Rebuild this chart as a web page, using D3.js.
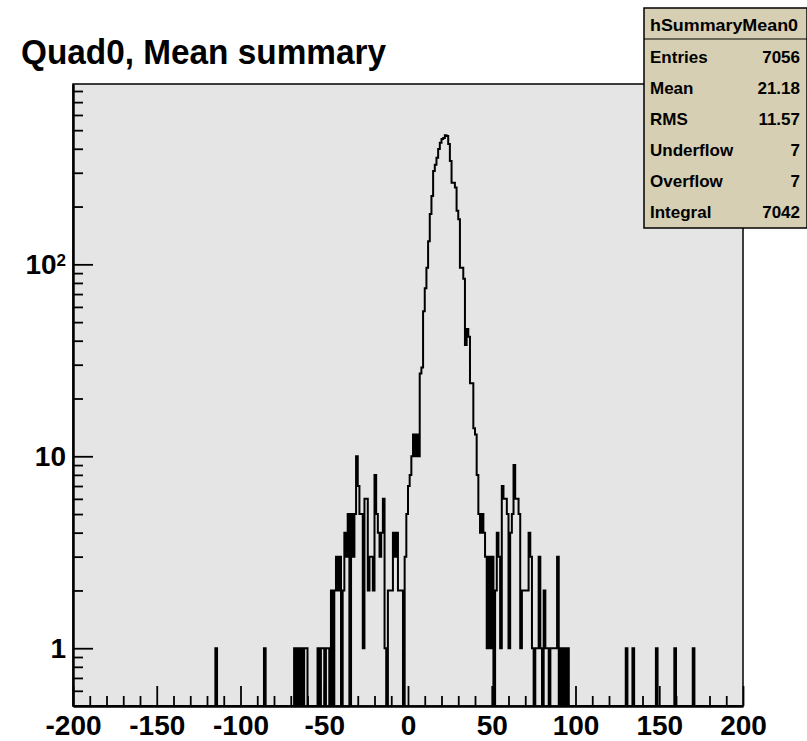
<!DOCTYPE html>
<html>
<head>
<meta charset="utf-8">
<script src="https://cdn.jsdelivr.net/npm/d3@7"></script>
<style>
  body { margin: 0; background: #fff; }
  svg { display: block; }
  text { font-family: "Liberation Sans", Arial, Helvetica, sans-serif; }
</style>
</head>
<body>
<div id="chart"></div>
<script>
// histogram: 400 bins of width 1 from -200 to 200
const xMin = -200, xMax = 200;

// contiguous bins starting at bodyStart (lower bin edge), one count per bin
const bodyStart = -70;
const bodyCounts = [
  0, 0, 1, 0, 1, 0, 1, 0, 1, 1,        // -70 .. -61
  0, 0, 0, 0, 0, 0, 1, 0, 1, 1,        // -60 .. -51
  0, 1, 1, 0, 2, 0, 2, 3, 2, 3,        // -50 .. -41
  0, 2, 4, 3, 5, 0, 5, 3, 5, 10,       // -40 .. -31
  7, 5, 5, 1, 6, 6, 2, 3, 3, 2,        // -30 .. -21
  8, 5, 4, 3, 4, 6, 1, 0, 2, 2,        // -20 .. -11
  2, 4, 3, 4, 2, 2, 2, 0, 3, 5,        // -10 .. -1
  7, 8, 10, 13, 10, 13, 10, 27, 29, 57,        // 0 .. 9
  75, 96, 132, 183, 227, 306, 330, 359, 399, 430, // 10 .. 19
  450, 455, 470, 466, 424, 345, 266, 266, 251, 190, // 20 .. 29
  172, 96, 96, 84, 38, 46, 42, 24, 24, 14,     // 30 .. 39
  13, 8, 5, 4, 5, 4, 3, 1, 3, 1,       // 40 .. 49
  3, 0, 2, 4, 3, 1, 7, 6, 6, 5,        // 50 .. 59
  1, 4, 5, 9, 6, 6, 5, 1, 2, 2,        // 60 .. 69
  2, 2, 4, 3, 1, 0, 1, 1, 3, 1,        // 70 .. 79
  0, 2, 1, 1, 0, 1, 1, 1, 1, 3,        // 80 .. 89
  0, 1, 0, 1, 0, 1, 0, 0, 0, 0         // 90 .. 99
];

// isolated single entries far from the peak
const spikeBins = [-115, -86, 130, 134, 148, 159, 170];
const spikeCounts = [1, 1, 1, 1, 1, 1, 1];

const xMajorTicks = [-200, -150, -100, -50, 0, 50, 100, 150, 200];
const yMajorTicks = [1, 10, 100];
const yMinorTicks = [0.6, 0.7, 0.8, 0.9, 2, 3, 4, 5, 6, 7, 8, 9,
                     20, 30, 40, 50, 60, 70, 80, 90, 200, 300, 400, 500, 600, 700, 800];

const title = "Quad0, Mean summary";
const statName = "hSummaryMean0";
const statLabels = ["Entries", "Mean", "RMS", "Underflow", "Overflow", "Integral"];
const statValues = ["7056", "21.18", "11.57", "7", "7", "7042"];

// build full bin array
const counts = new Array(xMax - xMin).fill(0);
bodyCounts.forEach((c, i) => { counts[bodyStart + i - xMin] = c; });
spikeBins.forEach((b, i) => { counts[b - xMin] = spikeCounts[i]; });

const W = 807, H = 741;
const frame = { left: 73, right: 743, top: 84, bottom: 706 };

const svg = d3.select("#chart").append("svg")
  .attr("width", W)
  .attr("height", H);

const x = d3.scaleLinear().domain([xMin, xMax]).range([frame.left, frame.right]);
const y = d3.scaleLog().domain([0.5, 870]).range([frame.bottom, frame.top]);

// frame
svg.append("rect")
  .attr("x", frame.left).attr("y", frame.top)
  .attr("width", frame.right - frame.left)
  .attr("height", frame.bottom - frame.top)
  .attr("fill", "#e5e5e5")
  .attr("stroke", "#000")
  .attr("stroke-width", 1.5);

svg.append("defs").append("clipPath")
  .attr("id", "frame-clip")
  .append("rect")
  .attr("x", frame.left).attr("y", frame.top)
  .attr("width", frame.right - frame.left)
  .attr("height", frame.bottom - frame.top);

// histogram outline
const points = counts.map((c, i) => [xMin + i, c]);
points.push([xMax, counts[counts.length - 1]]);

const histLine = d3.line()
  .x(d => x(d[0]))
  .y(d => d[1] > 0 ? y(d[1]) : y(0.5))
  .curve(d3.curveStepAfter);

svg.append("path")
  .datum(points)
  .attr("clip-path", "url(#frame-clip)")
  .attr("d", histLine)
  .attr("fill", "none")
  .attr("stroke", "#000")
  .attr("stroke-width", 2);

// x axis, ticks pointing into the frame
const xMinor = d3.range(xMin, xMax + 1, 10).filter(v => v % 50 !== 0);
svg.append("g")
  .attr("transform", `translate(0,${frame.bottom})`)
  .call(d3.axisBottom(x).tickValues(xMinor).tickSize(-10).tickFormat(""))
  .call(g => g.select(".domain").remove());

const xAxis = svg.append("g")
  .attr("transform", `translate(0,${frame.bottom})`)
  .call(d3.axisBottom(x).tickValues(xMajorTicks).tickSizeInner(-20).tickSizeOuter(0).tickPadding(9)
    .tickFormat(d => String(d)));

// y axis (log)
svg.append("g")
  .attr("transform", `translate(${frame.left},0)`)
  .call(d3.axisLeft(y).tickValues(yMinorTicks).tickSize(-10).tickFormat(""))
  .call(g => g.select(".domain").remove());

const yAxis = svg.append("g")
  .attr("transform", `translate(${frame.left},0)`)
  .call(d3.axisLeft(y).tickValues(yMajorTicks).tickSizeInner(-20).tickSizeOuter(0).tickPadding(7)
    .tickFormat(d => d === 100 ? "10" : String(d)));

yAxis.selectAll(".tick text")
  .filter(d => d === 100)
  .append("tspan")
  .attr("dy", "-0.45em")
  .style("font-size", "17px")
  .text("2");

[xAxis, yAxis].forEach(a => {
  a.select(".domain").attr("stroke-width", 2.5);
  a.selectAll(".tick text")
    .attr("fill", "#000")
    .style("font-size", "28px")
    .style("font-weight", "bold")
    .style("font-family", "'Liberation Sans', Arial, sans-serif");
});
svg.selectAll(".tick line").attr("stroke", "#000").attr("stroke-width", 1.8);

// title
svg.append("text")
  .attr("x", 21)
  .attr("y", 64)
  .attr("textLength", 365)
  .attr("lengthAdjust", "spacingAndGlyphs")
  .style("font-size", "35px")
  .style("font-weight", "bold")
  .text(title);

// stats box
const box = { x: 644, y: 8, w: 163, h: 220 };
const stats = svg.append("g");
stats.append("rect")
  .attr("x", box.x).attr("y", box.y)
  .attr("width", box.w).attr("height", box.h)
  .attr("fill", "#d6cfb3")
  .attr("stroke", "#000")
  .attr("stroke-width", 1.5);
stats.append("line")
  .attr("x1", box.x).attr("x2", box.x + box.w)
  .attr("y1", 39).attr("y2", 39)
  .attr("stroke", "#000")
  .attr("stroke-width", 1.2);
stats.append("text")
  .attr("x", box.x + 6)
  .attr("y", 31)
  .attr("textLength", 148)
  .attr("lengthAdjust", "spacingAndGlyphs")
  .style("font-size", "17px")
  .style("font-weight", "bold")
  .text(statName);

statLabels.forEach((lab, i) => {
  const yy = 57 + i * 31 + 6;
  stats.append("text")
    .attr("x", box.x + 6)
    .attr("y", yy)
    .style("font-size", "17px")
    .style("font-weight", "bold")
    .text(lab);
  stats.append("text")
    .attr("x", 800)
    .attr("y", yy)
    .attr("text-anchor", "end")
    .style("font-size", "17px")
    .style("font-weight", "bold")
    .text(statValues[i]);
});
</script>
</body>
</html>
